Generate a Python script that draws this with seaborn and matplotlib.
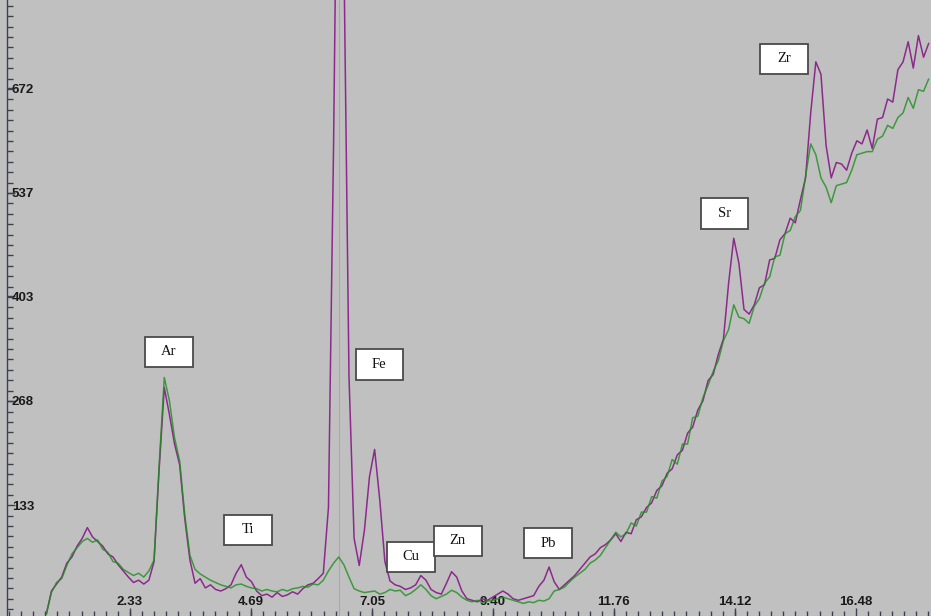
import numpy as np
import pandas as pd
import matplotlib
matplotlib.use("Agg")
import matplotlib.pyplot as plt
import matplotlib.transforms as mtransforms
from matplotlib.patches import Rectangle
from matplotlib.ticker import FixedLocator
import seaborn as sns

# energy channels (keV) and counts
energy = np.round(np.arange(0.7, 17.95, 0.1), 1)

purple = [
    -8, 22, 31, 40, 58, 66, 80, 90, 104, 92,
    86, 80, 70, 66, 56, 48, 40, 33, 36, 31,
    36, 60, 180, 285, 250, 212, 185, 115, 62, 32,
    38, 26, 30, 24, 22, 25, 30, 45, 56, 40,
    34, 22, 16, 18, 14, 20, 15, 17, 21, 18,
    25, 30, 32, 38, 45, 130, 600, 1200, 850, 300,
    90, 55, 100, 170, 205, 140, 60, 35, 30, 28,
    24, 26, 30, 42, 36, 24, 20, 18, 32, 47,
    40, 22, 12, 10, 8, 12, 10, 14, 18, 22,
    18, 12, 10, 12, 14, 16, 28, 36, 53, 34,
    24, 30, 36, 42, 50, 58, 66, 70, 78, 82,
    88, 96, 86, 98, 96, 114, 118, 130, 136, 152,
    158, 174, 180, 198, 204, 226, 234, 256, 268, 294,
    302, 328, 348, 420, 478, 446, 386, 380, 392, 414,
    418, 450, 452, 476, 484, 504, 498, 528, 556, 640,
    706, 690, 598, 556, 576, 574, 566, 588, 604, 600,
    618, 594, 632, 634, 658, 654, 696, 706, 732, 698,
    740, 712, 730,
]

green = [
    -8, 20, 33, 38, 55, 70, 78, 86, 90, 85,
    88, 76, 72, 60, 58, 50, 46, 42, 45, 40,
    48, 62, 185, 298, 268, 220, 190, 120, 68, 50,
    44, 40, 36, 33, 30, 28, 26, 30, 31, 28,
    26, 25, 22, 24, 22, 21, 24, 22, 25, 26,
    28, 27, 31, 30, 36, 48, 58, 66, 56, 40,
    25, 22, 20, 21, 22, 18, 20, 24, 22, 23,
    16, 19, 24, 30, 24, 16, 12, 15, 18, 23,
    20, 14, 10, 8, 10, 7, 9, 10, 12, 14,
    12, 10, 8, 6, 8, 7, 10, 9, 12, 22,
    24, 27, 34, 40, 45, 50, 58, 62, 68, 78,
    88, 98, 92, 96, 110, 106, 124, 124, 144, 142,
    164, 170, 192, 186, 212, 212, 246, 248, 272, 288,
    306, 320, 346, 360, 392, 376, 374, 368, 390, 400,
    420, 428, 454, 456, 484, 488, 506, 514, 558, 600,
    586, 556, 544, 524, 546, 548, 550, 566, 586, 588,
    590, 590, 606, 610, 624, 620, 634, 640, 660, 646,
    670, 668, 684,
]

# element labels and where their boxes sit
peak_names = ["Ar", "Ti", "Fe", "Cu", "Zn", "Pb", "Sr", "Zr"]
peak_x = [3.09, 4.63, 7.19, 7.81, 8.72, 10.48, 13.92, 15.08]
peak_y = [331, 101, 315, 66, 87, 84, 510, 710]

ytick_vals = [133, 268, 403, 537, 672]
xtick_vals = [2.33, 4.69, 7.05, 9.40, 11.76, 14.12, 16.48]
xtick_labels = ["2.33", "4.69", "7.05", "9.40", "11.76", "14.12", "16.48"]

df = pd.DataFrame({"energy": energy, "purple": purple, "green": green})

sns.set_style("white")
bg = "#c0c0c0"
fig = plt.figure(figsize=(9.31, 6.16), dpi=100, facecolor=bg)
ax = fig.add_axes([7 / 931, 0, 1 - 7 / 931, 1])
ax.set_facecolor(bg)

# faint marker line at the Fe K-alpha energy
ax.axvline(6.40, color="#a9a9a9", lw=0.8, zorder=1)

sns.lineplot(data=df, x="energy", y="purple", color="#8c2a8c", lw=1.1, ax=ax, zorder=2)
sns.lineplot(data=df, x="energy", y="green", color="#1e8f1e", lw=1.1, alpha=0.8, ax=ax, zorder=3)

ax.set_xlim(-0.066, 17.945)
ax.set_ylim(-10.3, 786)
ax.set_xlabel("")
ax.set_ylabel("")

# ticks
tick_col = "#3c4150"
ax.yaxis.set_major_locator(FixedLocator(ytick_vals))
ax.yaxis.set_minor_locator(FixedLocator(np.arange(-1.5, 786, 13.45)))
ax.xaxis.set_major_locator(FixedLocator(xtick_vals))
ax.xaxis.set_minor_locator(FixedLocator(np.arange(-0.028, 18, 0.23583)))
ax.set_xticklabels(xtick_labels)

ax.tick_params(axis="y", which="major", left=True, direction="in", length=5.5, width=1,
               color=tick_col, pad=-3.6, labelsize=9.5, labelcolor="#1a1a1a")
ax.tick_params(axis="y", which="minor", left=True, direction="in", length=4, width=1,
               color=tick_col)
ax.tick_params(axis="x", which="major", bottom=True, direction="in", length=6, width=1,
               color=tick_col, pad=-6, labelsize=9.5, labelcolor="#1a1a1a")
ax.tick_params(axis="x", which="minor", bottom=True, direction="in", length=3.5, width=1,
               color=tick_col)

for lbl in ax.get_yticklabels():
    lbl.set_horizontalalignment("left")
    lbl.set_fontweight("bold")
    lbl.set_family("Liberation Sans")
for lbl in ax.get_xticklabels():
    lbl.set_verticalalignment("bottom")
    lbl.set_fontweight("bold")
    lbl.set_family("Liberation Sans")

for side in ["top", "right", "bottom"]:
    ax.spines[side].set_visible(False)
ax.spines["left"].set_color(tick_col)
ax.spines["left"].set_linewidth(1)

# white label boxes of fixed size
for name, bx, by in zip(peak_names, peak_x, peak_y):
    trans = fig.dpi_scale_trans + mtransforms.ScaledTranslation(bx, by, ax.transData)
    ax.add_patch(Rectangle((-0.237, -0.153), 0.475, 0.305, transform=trans,
                           facecolor="white", edgecolor="#4a4a4a", lw=1.3,
                           zorder=5, clip_on=False))
    ax.text(bx, by, name, ha="center", va="center", family="Liberation Serif",
            fontsize=10.5, color="#111111", zorder=6)

fig.savefig("out.png", dpi=100, facecolor=bg)
